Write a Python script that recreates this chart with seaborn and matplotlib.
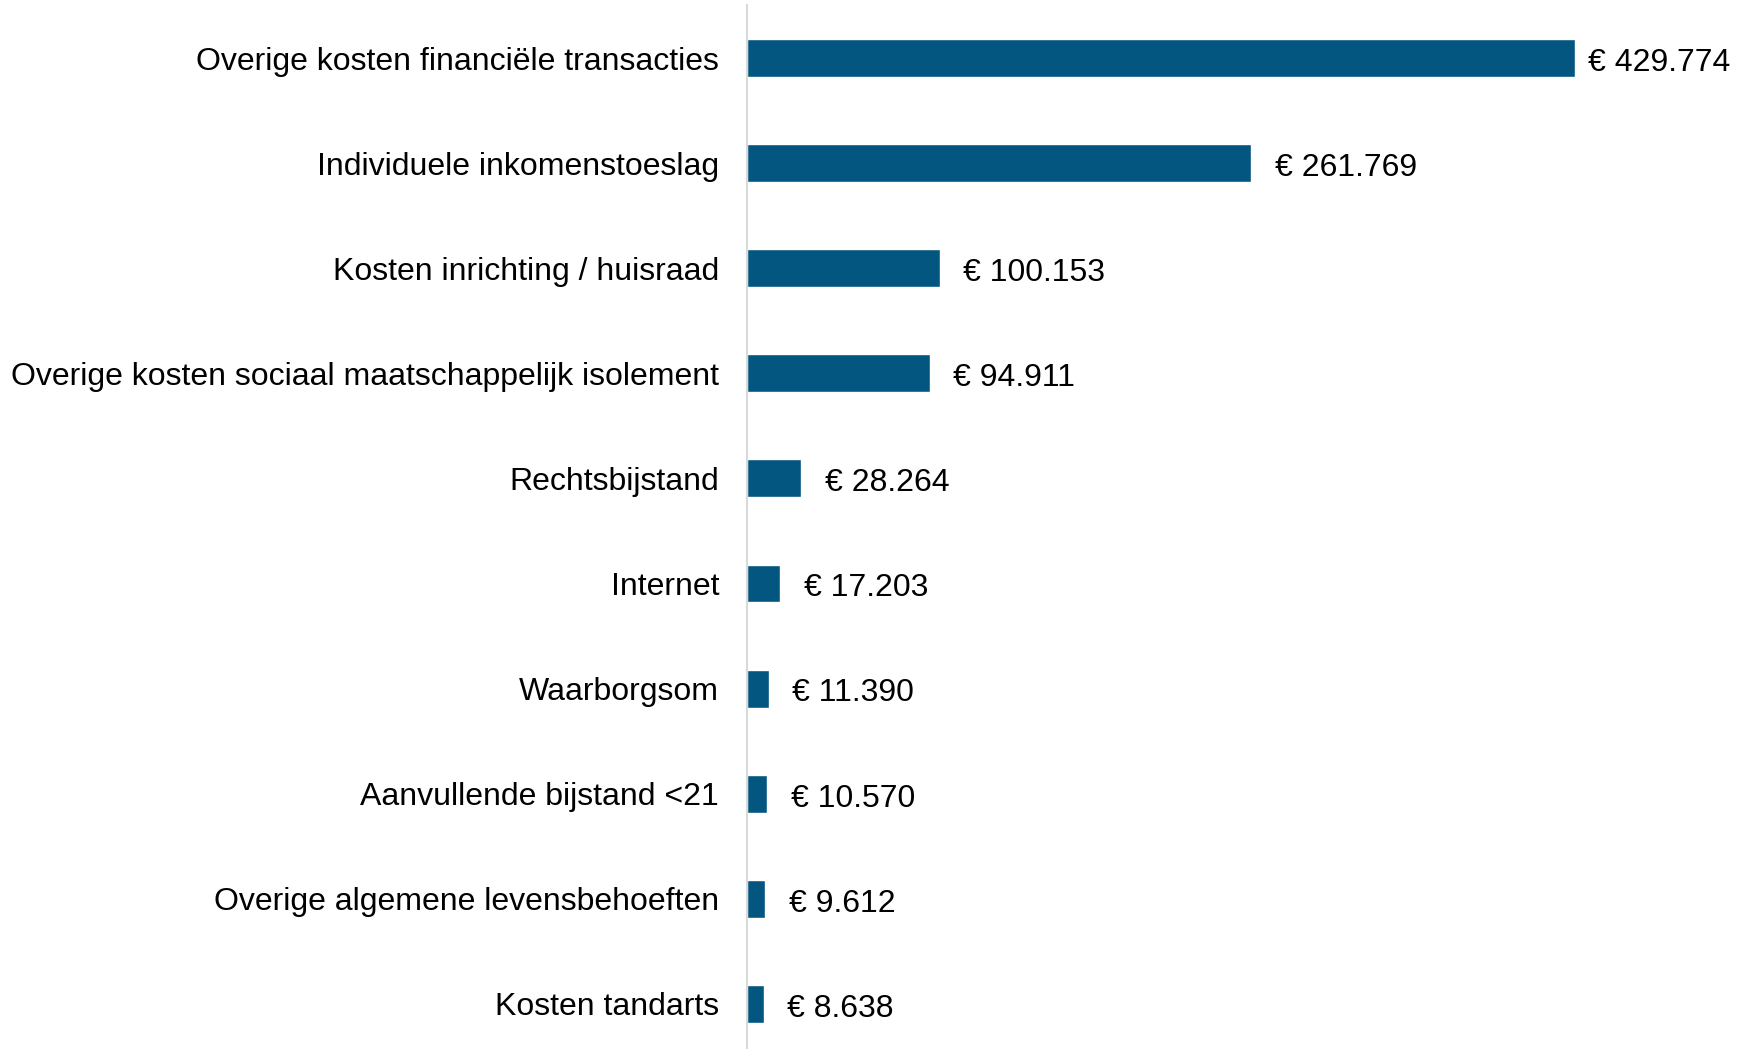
import matplotlib.pyplot as plt
import seaborn as sns
import pandas as pd

categories = [
    'Overige kosten financiële transacties',
    'Individuele inkomenstoeslag',
    'Kosten inrichting / huisraad',
    'Overige kosten sociaal maatschappelijk isolement',
    'Rechtsbijstand',
    'Internet',
    'Waarborgsom',
    'Aanvullende bijstand <21',
    'Overige algemene levensbehoeften',
    'Kosten tandarts',
]
amounts = [429774, 261769, 100153, 94911, 28264, 17203, 11390, 10570, 9612, 8638]

df = pd.DataFrame({'categorie': categories, 'bedrag': amounts})

sns.set_theme(style='white')
plt.rcParams['font.family'] = ['Liberation Sans', 'DejaVu Sans']

fig = plt.figure(figsize=(17.37, 10.49), dpi=100)
ax = fig.add_axes([0.43, -0.0071, 0.57, 1.0019])

sns.barplot(data=df, y='categorie', x='bedrag', color='#03567f', saturation=1,
            width=0.36, ax=ax)

ax.set_xlim(0, 514000)
ax.set_ylim(9.5, -0.5)
ax.set_xlabel('')
ax.set_ylabel('')
ax.set_xticks([])
for side in ['top', 'right', 'bottom']:
    ax.spines[side].set_visible(False)
ax.spines['left'].set_color('#d9d9d9')
ax.spines['left'].set_linewidth(1.5)
ax.tick_params(axis='y', length=0, pad=20, labelsize=23, labelcolor='black')

# value labels next to bars
for i, v in enumerate(amounts):
    txt = '€ ' + f'{v:,}'.replace(',', '.')
    off = 9.5 if v == max(amounts) else 17
    ax.annotate(txt, xy=(v, i), xytext=(off, -1), textcoords='offset points',
                va='center_baseline', ha='left', fontsize=23, color='black')

fig.savefig('out.png', dpi=100)
